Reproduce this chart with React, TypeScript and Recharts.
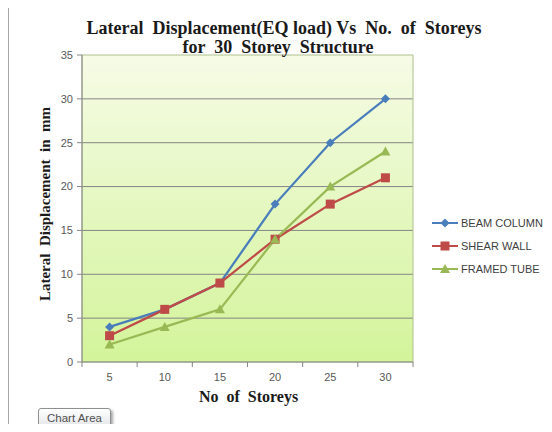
import { LineChart, Line, XAxis, YAxis, CartesianGrid, ReferenceArea } from "recharts"

const storeys = [5, 10, 15, 20, 25, 30]
const beamColumn = [4, 6, 9, 18, 25, 30]
const shearWall = [3, 6, 9, 14, 18, 21]
const framedTube = [2, 4, 6, 14, 20, 24]
const yTicks = [0, 5, 10, 15, 20, 25, 30, 35]

const data = storeys.map((s, i) => ({
  storeys: s,
  beam: beamColumn[i],
  shear: shearWall[i],
  framed: framedTube[i],
}))

const series = [
  { key: "beam", name: "BEAM COLUMN", color: "#4a7ebb", shape: "diamond" },
  { key: "shear", name: "SHEAR WALL", color: "#be4b48", shape: "square" },
  { key: "framed", name: "FRAMED TUBE", color: "#98b954", shape: "triangle" },
]

const serif = '"Liberation Serif", "Times New Roman", serif'
const sans = '"Liberation Sans", Arial, sans-serif'

// draws a marker centred on cx, cy
const marker = (shape: string, cx: number, cy: number, color: string) => {
  if (shape === "diamond")
    return <polygon points={`${cx},${cy - 4.5} ${cx + 4.5},${cy} ${cx},${cy + 4.5} ${cx - 4.5},${cy}`} fill={color} />
  if (shape === "square") return <rect x={cx - 4.5} y={cy - 4.5} width={9} height={9} fill={color} />
  return <polygon points={`${cx},${cy - 5} ${cx + 5},${cy + 4} ${cx - 5},${cy + 4}`} fill={color} />
}

const makeDot = (shape: string, color: string) => (props: any) => {
  const { cx, cy, index } = props
  if (cx == null || cy == null) return <g key={index} />
  return <g key={index}>{marker(shape, cx, cy, color)}</g>
}

const HALF_BAND = 27.6

const StoreyTick = (props: any) => {
  const { x, y, payload, index } = props
  return (
    <g>
      <line x1={x - HALF_BAND} y1={y} x2={x - HALF_BAND} y2={y + 5} stroke="#868686" />
      {index === storeys.length - 1 && (
        <line x1={x + HALF_BAND} y1={y} x2={x + HALF_BAND} y2={y + 5} stroke="#868686" />
      )}
      <text x={x} y={y + 19} textAnchor="middle" fontSize={11} fill="#595959" fontFamily={sans}>
        {payload.value}
      </text>
    </g>
  )
}

export default function App() {
  return (
    <div style={{ position: "relative", margin: -8, width: 552, height: 432, background: "#fff", overflow: "hidden" }}>
      <svg width={0} height={0} style={{ position: "absolute" }}>
        <defs>
          <linearGradient id="plotFill" x1="0" y1="0" x2="0" y2="1">
            <stop offset="0%" stopColor="#f6fbe6" />
            <stop offset="100%" stopColor="#d3f49a" />
          </linearGradient>
        </defs>
      </svg>
      <div style={{ position: "absolute", left: 8, top: 7, width: 560, height: 430, border: "1px solid #a6a6a6", boxSizing: "border-box" }} />

      <LineChart width={552} height={432} data={data} margin={{ top: 55, right: 139, bottom: 40, left: 53 }}>
        <CartesianGrid vertical={false} stroke="#858585" fill="url(#plotFill)" horizontalValues={yTicks.filter((v) => v > 0 && v < 35)} />
        <ReferenceArea x1={2.5} x2={32.5} y1={0} y2={35} fill="none" stroke="#aebf8e" ifOverflow="visible" />
        <XAxis
          dataKey="storeys"
          type="number"
          domain={[2.5, 32.5]}
          ticks={storeys}
          height={30}
          tickSize={0}
          tickMargin={0}
          tickLine={false}
          tick={<StoreyTick />}
          axisLine={{ stroke: "#868686" }}
        />
        <YAxis
          domain={[0, 35]}
          ticks={yTicks}
          width={29}
          tickSize={5}
          tickMargin={4}
          tick={{ fontSize: 11, fill: "#595959", fontFamily: sans }}
          tickLine={{ stroke: "#868686" }}
          axisLine={{ stroke: "#868686" }}
        />
        {series.map((s) => (
          <Line
            key={s.key}
            dataKey={s.key}
            name={s.name}
            type="linear"
            stroke={s.color}
            strokeWidth={2.25}
            dot={makeDot(s.shape, s.color)}
            activeDot={false}
            isAnimationActive={false}
          />
        ))}
      </LineChart>

      <div style={{ position: "absolute", left: 432, top: 211, fontFamily: sans, fontSize: 11, color: "#404040" }}>
        {series.map((s) => (
          <div key={s.key} style={{ display: "flex", alignItems: "center", height: 23 }}>
            <svg width={27} height={12} style={{ marginRight: 2 }}>
              <line x1={0} y1={6} x2={26} y2={6} stroke={s.color} strokeWidth={2} />
              {marker(s.shape, 13, 6, s.color)}
            </svg>
            <span>{s.name}</span>
          </div>
        ))}
      </div>

      <div style={{ position: "absolute", left: 0, width: 568, top: 18, textAlign: "center", fontFamily: serif, fontWeight: "bold", fontSize: 18, color: "#1a1a1a", whiteSpace: "pre", lineHeight: "20px" }}>
        {"Lateral  Displacement(EQ load) Vs  No.  of  Storeys"}
      </div>
      <div style={{ position: "absolute", left: 0, width: 556, top: 37, textAlign: "center", fontFamily: serif, fontWeight: "bold", fontSize: 18, color: "#1a1a1a", whiteSpace: "pre", lineHeight: "20px" }}>
        {"for  30  Storey  Structure"}
      </div>
      <div
        style={{
          position: "absolute", left: 45, top: 204, transform: "translate(-50%, -50%) rotate(-90deg)",
          fontFamily: serif, fontWeight: "bold", fontSize: 15, color: "#1a1a1a", whiteSpace: "pre",
        }}
      >
        {"Lateral  Displacement  in  mm"}
      </div>
      <div style={{ position: "absolute", left: 0, width: 497, top: 388, textAlign: "center", fontFamily: serif, fontWeight: "bold", fontSize: 16, color: "#1a1a1a", whiteSpace: "pre" }}>
        {"No  of  Storeys"}
      </div>
      <div
        style={{
          position: "absolute", left: 38, top: 408, width: 73, height: 20, boxSizing: "border-box",
          border: "1px solid #8e8f8f", borderRadius: 3, background: "linear-gradient(#ffffff, #e4e5e8)",
          boxShadow: "2px 2px 3px rgba(0,0,0,0.35)", fontFamily: sans, fontSize: 11.5, color: "#505050",
          textAlign: "center", lineHeight: "18px",
        }}
      >
        Chart Area
      </div>
    </div>
  )
}
